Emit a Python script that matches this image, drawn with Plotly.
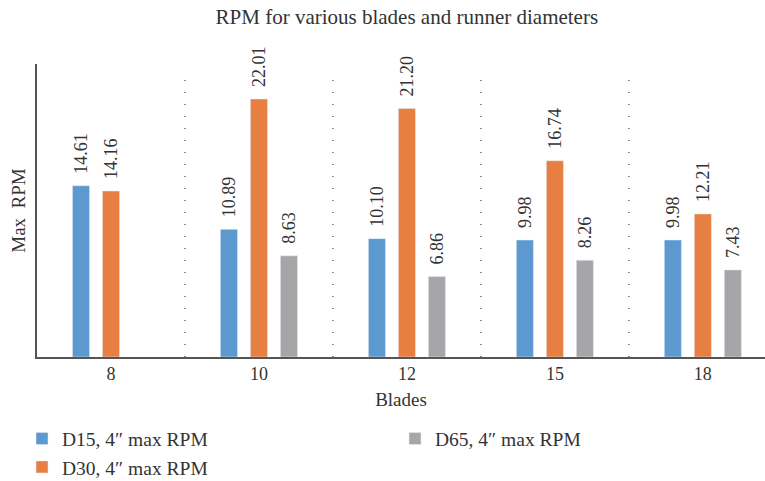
import plotly.graph_objects as go

blades = ["8", "10", "12", "15", "18"]
d15 = [14.61, 10.89, 10.10, 9.98, 9.98]
d30 = [14.16, 22.01, 21.20, 16.74, 12.21]
d65 = [None, 8.63, 6.86, 8.26, 7.43]
names = ["D15, 4\u2033 max RPM", "D30, 4\u2033 max RPM", "D65, 4\u2033 max RPM"]
colors = ["#5B99CF", "#E67F41", "#A6A6A9"]
ranks = [1, 3, 2]

FONT = "Liberation Serif"
TXT = "#333"
fig = go.Figure()
for vals, name, col, rk in zip([d15, d30, d65], names, colors, ranks):
    fig.add_trace(go.Bar(
        x=blades, y=vals, name=name, marker_color=col, legendrank=rk,
        text=[("\u00a0\u00a0" + "%.2f" % v) if v is not None else "" for v in vals],
        textposition="outside", textangle=-90, cliponaxis=False,
        textfont=dict(family=FONT, size=18, color=TXT),
    ))

for i in range(len(blades) - 1):
    fig.add_shape(type="line", xref="x", yref="paper", x0=i + 0.5, x1=i + 0.5,
                  y0=0, y1=0.98, line=dict(color="#444", width=1.2, dash="1px,11px"))

fig.update_layout(
    width=765, height=481,
    margin=dict(l=37, r=0, t=64, b=124, autoexpand=False),
    paper_bgcolor="white", plot_bgcolor="white",
    font=dict(family=FONT, size=18, color=TXT),
    title=dict(text="RPM for various blades and runner diameters", x=0.508, xref="paper",
               xanchor="center", y=1 - 17 / 481, yanchor="middle",
               font=dict(family=FONT, size=21, color=TXT)),
    barmode="group", bargap=0.392, bargroupgap=0.43,
    uniformtext=dict(mode="show", minsize=18),
    legend=dict(orientation="h", x=-0.0206, xanchor="left", y=-0.213, yanchor="top",
                entrywidth=328, entrywidthmode="pixels", traceorder="normal",
                font=dict(family=FONT, size=19.5, color=TXT)),
    showlegend=True,
)
fig.update_xaxes(type="category", range=[-0.5, 4.42], showline=True, linecolor="#555",
                 linewidth=1.5, ticks="", showgrid=False, automargin=False,
                 title=dict(text="Blades", font=dict(family=FONT, size=19, color=TXT), standoff=9),
                 tickfont=dict(family=FONT, size=18, color=TXT))
fig.update_yaxes(range=[0, 25], showline=True, linecolor="#555", linewidth=1.5, automargin=False,
                 showticklabels=False, ticks="", showgrid=False, zeroline=False,
                 title=dict(text="Max  RPM", font=dict(family=FONT, size=19, color=TXT), standoff=5))

fig.write_html("out.html")
